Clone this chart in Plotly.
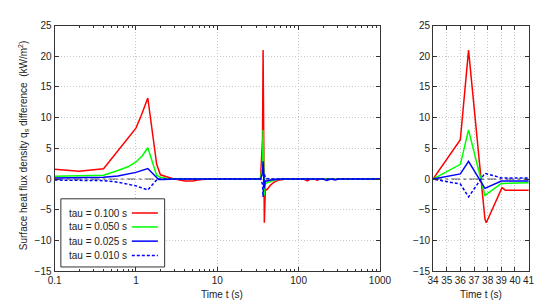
import plotly.graph_objects as go

W, H = 550, 300

# ---------------- data ----------------
t_red = [0.1, 0.2, 0.4, 0.5, 0.6, 0.8, 1.0, 1.15, 1.4, 1.8, 2.0, 2.5, 3.0, 4.0, 5.0, 6.0, 8.0, 34.0,
         36.0, 36.6, 37.8, 37.9, 39.05, 39.3, 41.0, 45.0, 50.0, 56.0, 70.0, 115.0, 128.0, 140.0, 160.0, 169.0, 180.0, 1000.0]
q_red = [1.6, 1.3, 1.7, 3.3, 4.7, 6.7, 8.3, 10.2, 13.2, 2.4, 0.7, 0.3, 0.0, -0.3, -0.3, -0.1, 0.0, 0.0,
         6.4, 21.0, -6.5, -7.1, -1.4, -1.8, -1.7, -1.0, -0.5, -0.2, 0.0, 0.0, -0.3, 0.0, 0.0, -0.2, 0.0, 0.0]

t_green = [0.1, 0.4, 0.6, 0.8, 1.0, 1.2, 1.4, 1.8, 2.0, 2.5, 3.0, 34.0,
           36.0, 36.6, 37.8, 39.0, 41.0, 45.0, 50.0, 60.0, 1000.0]
q_green = [0.45, 0.65, 1.4, 2.0, 2.8, 3.8, 5.1, 0.6, 0.3, 0.05, 0.0, 0.0,
           2.4, 8.0, -2.65, -0.7, -0.6, -0.35, -0.15, 0.0, 0.0]

t_blue = [0.1, 0.4, 0.6, 0.8, 1.0, 1.4, 1.9, 2.2, 3.0, 34.0,
          36.0, 36.6, 37.8, 39.0, 41.0, 45.0, 50.0, 60.0, 200.0, 222.0, 250.0, 282.0, 310.0, 1000.0]
q_blue = [0.2, 0.3, 0.5, 0.8, 1.1, 1.72, -0.05, -0.05, 0.0, 0.0,
          0.85, 2.9, -1.5, -0.3, -0.3, -0.15, -0.05, 0.0, 0.0, -0.2, 0.0, -0.15, 0.0, 0.0]

t_dash = [0.1, 0.4, 0.6, 0.8, 1.0, 1.4, 1.83, 2.2, 34.0,
          36.0, 36.6, 37.8, 39.0, 41.0, 45.0, 1000.0]
q_dash = [-0.15, -0.25, -0.5, -0.8, -1.1, -1.77, 0.0, 0.0, 0.0,
          -0.8, -2.9, 0.95, 0.2, 0.1, 0.0, 0.0]

series = [
    ("tau = 0.100 s", t_red, q_red, "#ff0000", "solid"),
    ("tau = 0.050 s", t_green, q_green, "#00ff00", "solid"),
    ("tau = 0.025 s", t_blue, q_blue, "#0000ff", "solid"),
    ("tau = 0.010 s", t_dash, q_dash, "#0000ff", "3px,2px"),
]

x_left_ticks = [0.1, 1, 10, 100, 1000]
x_left_labels = ["0.1", "1", "10", "100", "1000"]
x_left_minor = [m * d for d in [0.1, 1, 10, 100] for m in range(2, 10)]
x_right_ticks = [34, 35, 36, 37, 38, 39, 40, 41]
y_ticks = [-15, -10, -5, 0, 5, 10, 15, 20, 25]

# ---------------- figure ----------------
fig = go.Figure()
for name, t, q, col, dash in series:
    for xa, ya in [("x", "y"), ("x2", "y2")]:
        fig.add_trace(go.Scatter(x=t, y=q, mode="lines", name=name, xaxis=xa, yaxis=ya,
                                 line=dict(color=col, width=1.5, dash=dash), showlegend=False))

FONT = dict(family="Liberation Sans, Arial, sans-serif", size=10, color="#222")
LINE = "#333"
GRID = "#c8c8c8"

def px(x):
    return x / W

def py(y):
    return 1 - y / H

common_axis = dict(showline=True, linecolor=LINE, linewidth=1, mirror="allticks",
                   ticks="inside", tickcolor=LINE, ticklen=4, tickfont=FONT, tickangle=0,
                   showgrid=True, gridcolor=GRID, griddash="1px,2px", gridwidth=1, zeroline=False)

fig.update_layout(
    width=W, height=H, margin=dict(l=0, r=0, t=0, b=0),
    paper_bgcolor="white", plot_bgcolor="white", showlegend=False,
    font=FONT,
    xaxis=dict(common_axis, type="log", domain=[px(41), px(378)], range=[-1, 3],
               tickmode="array", tickvals=x_left_ticks, ticktext=x_left_labels,
               minor=dict(ticks="inside", ticklen=2, tickcolor=LINE, tickmode="array",
                          tickvals=x_left_minor, showgrid=False),
               anchor="y"),
    yaxis=dict(common_axis, domain=[py(268), py(12)], range=[-15, 25],
               tickmode="array", tickvals=y_ticks, anchor="x"),
    xaxis2=dict(common_axis, domain=[px(433), px(532)], range=[34, 41],
                tickmode="array", tickvals=x_right_ticks, anchor="y2"),
    yaxis2=dict(common_axis, domain=[py(268), py(12)], range=[-15, 25],
                tickmode="array", tickvals=y_ticks, anchor="x2"),
)

# zero axes (dash-dot)
for xr, yr in [("x domain", "y"), ("x2 domain", "y2")]:
    fig.add_shape(type="line", xref=xr, yref=yr, x0=0, x1=1, y0=0, y1=0,
                  line=dict(color="#000", width=0.8, dash="dashdot"), layer="below")

# axis titles
fig.add_annotation(text="Surface heat flux density q<sub>s</sub> difference  (kW/m<sup>2</sup>)",
                   xref="paper", yref="paper", x=px(9), y=py(137), textangle=-90,
                   showarrow=False, font=FONT, xanchor="center", yanchor="middle")
fig.add_annotation(text="Time t (s)", xref="paper", yref="paper", x=px(214), y=py(292),
                   showarrow=False, font=FONT, xanchor="center", yanchor="middle")
fig.add_annotation(text="Time t (s)", xref="paper", yref="paper", x=px(483), y=py(292),
                   showarrow=False, font=FONT, xanchor="center", yanchor="middle")

# legend box (drawn manually: label left, sample right, gnuplot style)
fig.add_shape(type="rect", xref="paper", yref="paper", x0=px(47.5), x1=px(155), y0=py(263.5), y1=py(192.5),
              line=dict(color=LINE, width=1), fillcolor="white", layer="above")
leg_y = [207.3, 221.8, 236.6, 251.5]
for (name, t, q, col, dash), yy in zip(series, leg_y):
    fig.add_annotation(text=name, xref="paper", yref="paper", x=px(54), y=py(yy),
                       showarrow=False, font=FONT, xanchor="left", yanchor="middle")
    fig.add_shape(type="line", xref="paper", yref="paper", x0=px(121), x1=px(148), y0=py(yy), y1=py(yy),
                  line=dict(color=col, width=1.5, dash=dash), layer="above")

fig.write_html("out.html")
